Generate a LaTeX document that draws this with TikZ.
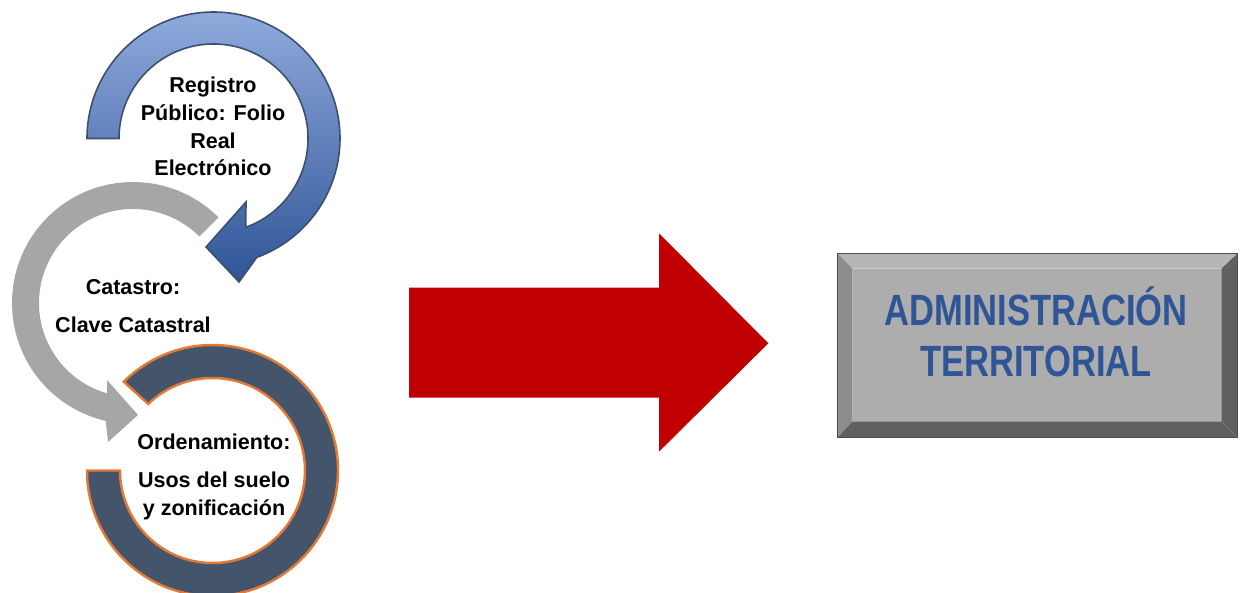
\documentclass[tikz,border=0pt]{standalone}
\usepackage{fontspec}
\setmainfont{Liberation Sans}
\newfontfamily\narrowsans[FakeStretch=0.79]{Liberation Sans}
\usepackage{tikz}
\definecolor{regtop}{HTML}{8FAADC}
\definecolor{regbottom}{HTML}{2F5597}
\definecolor{regedge}{HTML}{3E4F6E}
\definecolor{catgray}{HTML}{A6A6A6}
\definecolor{ordfill}{HTML}{44546A}
\definecolor{ordedge}{HTML}{E07A36}
\definecolor{bigred}{HTML}{C00000}
\definecolor{bevface}{HTML}{ADADAD}
\definecolor{bevlight}{HTML}{B6B6B6}
\definecolor{bevmid}{HTML}{8C8C8C}
\definecolor{bevdark}{HTML}{606060}
\definecolor{admblue}{HTML}{2F5597}

\begin{document}
\begin{tikzpicture}[x=0.02cm,y=0.02cm,
  lbl/.style={align=center,font=\bfseries\fontsize{12.25}{15.7}\selectfont},
  admlbl/.style={align=center,text=admblue,font=\narrowsans\bfseries\fontsize{24.9}{28.9}\selectfont}]
  \useasboundingbox (0,0) rectangle (1241,592);
  \coordinate (bc) at (213.5,453.5);
  \coordinate (gc) at (133,289);
  \coordinate (rc) at (212.5,121.5);
  \fill[catgray] ([shift={(45:121)}]gc) arc[start angle=45,end angle=257,radius=121]
    -- (108,150) -- (138,177) -- (107,212)
    -- ([shift={(254:94)}]gc) arc[start angle=254,end angle=45,radius=94] -- cycle;
  \draw[line width=1.4pt,draw=ordedge,fill=ordfill] ([shift={(180:125.5)}]rc) arc[start angle=180,end angle=495,radius=125.5]
    -- ([shift={(134:92.5)}]rc) arc[start angle=134,end angle=-180,radius=92.5] -- cycle;
  \draw[line width=0.9pt,draw=regedge,top color=regtop,bottom color=regbottom] ([shift={(180:126.5)}]bc) arc[start angle=180,end angle=-70,radius=126.5]
    -- (239,310) -- (206,345) -- (246,390)
    -- ([shift={(-70:94.5)}]bc) arc[start angle=-70,end angle=180,radius=94.5] -- cycle;
  \node[lbl] (registro) at (213,465.4) {Registro\\Público: Folio\\Real\\Electrónico};
  \node[lbl] (catastro) at (133,286) {Catastro:\\[6pt]Clave Catastral};
  \node[lbl] (orden) at (214,115.2) {Ordenamiento:\\[6pt]Usos del suelo\\y zonificación};
  \fill[bigred] (409,304.3) -- (659,304.3) -- (659,358.7) -- (768.3,248.7) -- (659,140.3) -- (659,194.3) -- (409,194.3) -- cycle;
  \node[minimum width=7.98cm,minimum height=3.66cm,inner sep=0pt] (adm) at (1037.5,246.5) {};
  \fill[bevface] ([shift={(15,-15)}]adm.north west) rectangle ([shift={(-16,16)}]adm.south east);
  \fill[bevlight] (adm.north west) -- (adm.north east) -- ([shift={(-16,-15)}]adm.north east) -- ([shift={(15,-15)}]adm.north west) -- cycle;
  \fill[bevmid] (adm.north west) -- ([shift={(15,-15)}]adm.north west) -- ([shift={(15,16)}]adm.south west) -- (adm.south west) -- cycle;
  \fill[bevdark] (adm.north east) -- (adm.south east) -- ([shift={(-16,16)}]adm.south east) -- ([shift={(-16,-15)}]adm.north east) -- cycle;
  \fill[bevdark] (adm.south west) -- (adm.south east) -- ([shift={(-16,16)}]adm.south east) -- ([shift={(15,16)}]adm.south west) -- cycle;
  \draw[gray!60!black,line width=0.6pt] (adm.north west) rectangle (adm.south east);
  \node[admlbl] (admtxt) at (1036,260.5) {ADMINISTRACIÓN\\TERRITORIAL};
\end{tikzpicture}
\end{document}
